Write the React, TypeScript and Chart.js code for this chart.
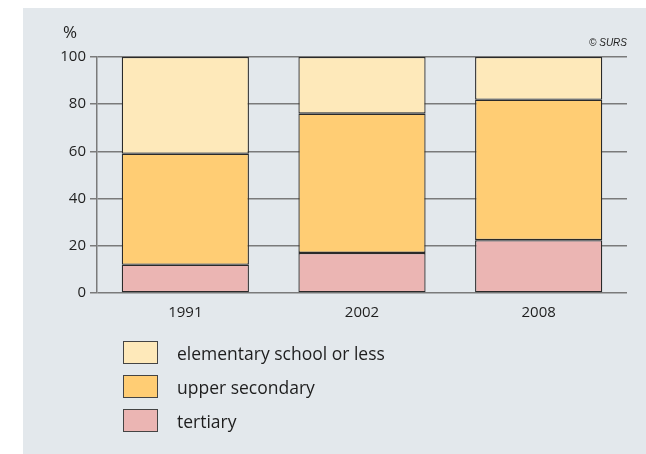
import React, { useEffect, useRef } from "react";
import { Chart, registerables } from "chart.js";

Chart.register(...registerables);

const categories = ["1991", "2002", "2008"];
const tertiary = [12, 17, 22.4];
const upperSecondary = [47, 59, 59.5];
const elementary = [41, 24, 18.1];
const yTicks = [0, 20, 40, 60, 80, 100];

const seriesNames = ["tertiary", "upper secondary", "elementary school or less"];
const seriesColors = ["#ebb5b3", "#ffcd74", "#fee9ba"];
const seriesValues = [tertiary, upperSecondary, elementary];

const FONT = "'Open Sans', 'Noto Sans', sans-serif";

const panelPlugin = {
  id: "panel",
  beforeDraw(chart: any) {
    const ctx = chart.ctx;
    ctx.save();
    ctx.fillStyle = "#ffffff";
    ctx.fillRect(0, 0, chart.width, chart.height);
    ctx.fillStyle = "#e3e8ec";
    ctx.fillRect(23, 8, chart.width - 23, chart.height - 8);
    ctx.restore();
  },
};

export default function App() {
  const ref = useRef<HTMLCanvasElement | null>(null);

  useEffect(() => {
    document.body.style.margin = "0";
    if (!ref.current) return;
    const chart = new Chart(ref.current, {
      type: "bar",
      data: {
        labels: categories,
        datasets: seriesNames.map((name, i) => ({
          label: name,
          data: seriesValues[i],
          backgroundColor: seriesColors[i],
          borderColor: "#2a2a2a",
          borderWidth: 1.3,
          borderSkipped: false,
          barPercentage: 0.72,
          categoryPercentage: 1,
        })),
      },
      options: {
        animation: false,
        responsive: false,
        maintainAspectRatio: false,
        devicePixelRatio: 1,
        layout: { padding: { left: 0, right: 19, top: 57, bottom: 131 } },
        plugins: { legend: { display: false }, tooltip: { enabled: false } },
        scales: {
          x: {
            stacked: true,
            grid: { display: false },
            border: { display: false },
            ticks: { color: "#1e1e1e", font: { family: FONT, size: 15 }, padding: 3 },
            afterFit: (s: any) => {
              s.height = 30;
            },
          },
          y: {
            stacked: true,
            min: 0,
            max: 100,
            afterBuildTicks: (s: any) => {
              s.ticks = yTicks.map((v) => ({ value: v }));
            },
            grid: {
              color: "#7a7a7a",
              lineWidth: 1.5,
              tickLength: 7,
              drawTicks: true,
            },
            border: { display: true, color: "#7a7a7a", width: 1.5 },
            ticks: { color: "#1e1e1e", font: { family: FONT, size: 15 }, padding: 4 },
            afterFit: (s: any) => {
              s.width = 97;
            },
          },
        },
      },
      plugins: [panelPlugin],
    });
    return () => chart.destroy();
  }, []);

  const legendOrder = [2, 1, 0];

  return (
    <div style={{ position: "relative", width: 646, height: 454, fontFamily: FONT }}>
      <canvas ref={ref} width={646} height={454} style={{ position: "absolute", left: 0, top: 0 }} />
      <div
        style={{
          position: "absolute",
          left: 63,
          top: 21,
          fontSize: 17,
          color: "#1e1e1e",
          lineHeight: "22px",
        }}
      >
        %
      </div>
      <div
        style={{
          position: "absolute",
          right: 19,
          top: 36,
          fontSize: 10,
          fontStyle: "italic",
          fontFamily: "'Liberation Sans', Arial, sans-serif",
          color: "#222",
          lineHeight: "14px",
        }}
      >
        © SURS
      </div>
      {legendOrder.map((idx, row) => (
        <div
          key={seriesNames[idx]}
          style={{
            position: "absolute",
            left: 123,
            top: 341 + row * 34,
            height: 23,
            display: "flex",
            alignItems: "center",
          }}
        >
          <div
            style={{
              width: 33,
              height: 21,
              background: seriesColors[idx],
              border: "1px solid #444",
            }}
          />
          <span style={{ marginLeft: 19, fontSize: 17.5, color: "#1e1e1e", whiteSpace: "nowrap" }}>
            {seriesNames[idx]}
          </span>
        </div>
      ))}
    </div>
  );
}
